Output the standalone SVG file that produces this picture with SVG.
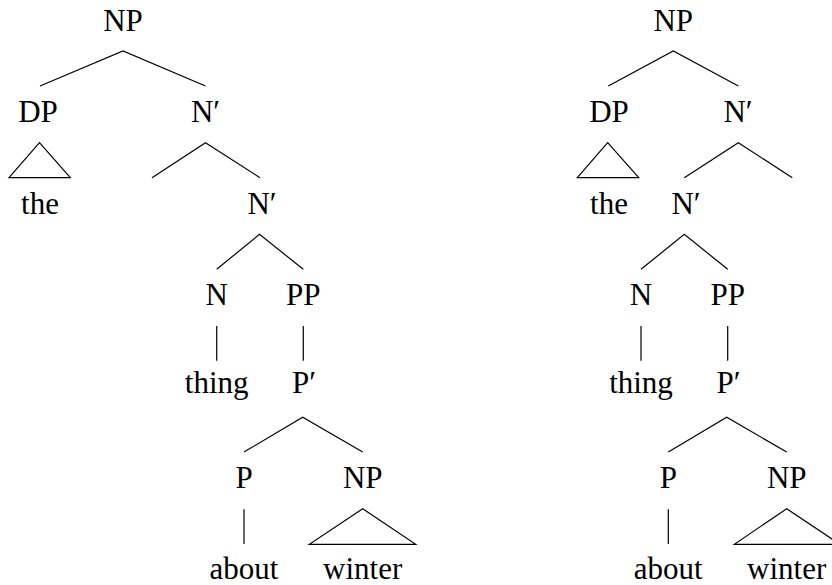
<svg xmlns="http://www.w3.org/2000/svg" width="832" height="585" viewBox="0 0 832 585">
<style>
.e{stroke:#000;stroke-width:1.2;fill:none}
</style>
<rect width="832" height="585" fill="#fff"/>
<g id="connectors">
<polyline class="e" points="40,86 123,51 205.5,86"/>
<polygon class="e" points="39.5,142.7 9,177.7 70.3,177.7"/>
<polyline class="e" points="152,177.7 205.5,142.7 260,177.7"/>
<polyline class="e" points="216.7,269.3 259.5,234.3 303.3,269.3"/>
<line class="e" x1="216.7" y1="326" x2="216.7" y2="360.7"/>
<line class="e" x1="303.3" y1="326" x2="303.3" y2="360.7"/>
<polyline class="e" points="244,452 302.7,417.3 362.7,452"/>
<line class="e" x1="244" y1="509.3" x2="244" y2="544"/>
<polygon class="e" points="362.7,508.7 309.3,544.3 415.7,544.3"/>
<polyline class="e" points="608.3,86 673.3,51 738.3,86"/>
<polygon class="e" points="607.7,142.7 577.3,177.7 638.7,177.7"/>
<polyline class="e" points="684.3,177.7 738.3,142.7 792.3,177.7"/>
<polyline class="e" points="641,269.3 684.3,234.3 727.7,269.3"/>
<line class="e" x1="641" y1="326" x2="641" y2="360.7"/>
<line class="e" x1="727.7" y1="326" x2="727.7" y2="360.7"/>
<polyline class="e" points="668.3,452 726.7,417.3 786.7,452"/>
<line class="e" x1="668.3" y1="509.3" x2="668.3" y2="544"/>
<polygon class="e" points="786.7,508.7 734.3,544.3 840,544.3"/>
</g>
<g style="font-family:'Liberation Serif',serif;font-size:31px;fill:#000;text-anchor:middle">
<g id="L_NP"><text x="123" y="31">NP</text></g>
<g id="L_DP"><text x="38" y="122">DP</text></g>
<g id="L_Nbar1"><text x="205.5" y="122">N&#8242;</text></g>
<g id="L_the"><text x="40" y="213.5">the</text></g>
<g id="L_Nbar2"><text x="262" y="213.5">N&#8242;</text></g>
<g id="L_N"><text x="216.7" y="305">N</text></g>
<g id="L_PP"><text x="303.3" y="305">PP</text></g>
<g id="L_thing"><text x="216.7" y="393">thing</text></g>
<g id="L_Pbar"><text x="304" y="393">P&#8242;</text></g>
<g id="L_P"><text x="244" y="488">P</text></g>
<g id="L_NP2"><text x="362.7" y="488">NP</text></g>
<g id="L_about"><text x="244" y="579">about</text></g>
<g id="L_winter"><text x="362.7" y="579">winter</text></g>
<g id="R_NP"><text x="673.3" y="31">NP</text></g>
<g id="R_DP"><text x="609" y="122">DP</text></g>
<g id="R_Nbar1"><text x="738" y="122">N&#8242;</text></g>
<g id="R_the"><text x="609" y="213.5">the</text></g>
<g id="R_Nbar2"><text x="686" y="213.5">N&#8242;</text></g>
<g id="R_N"><text x="641" y="305">N</text></g>
<g id="R_PP"><text x="727.7" y="305">PP</text></g>
<g id="R_thing"><text x="641" y="393">thing</text></g>
<g id="R_Pbar"><text x="728.5" y="393">P&#8242;</text></g>
<g id="R_P"><text x="668.3" y="488">P</text></g>
<g id="R_NP2"><text x="786.7" y="488">NP</text></g>
<g id="R_about"><text x="668.3" y="579">about</text></g>
<g id="R_winter"><text x="786.7" y="579">winter</text></g>
</g>
</svg>
